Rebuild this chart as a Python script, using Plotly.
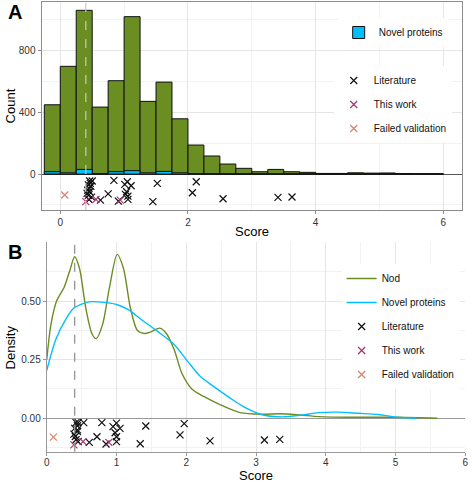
import plotly.graph_objects as go

# ---------------- data ----------------
# Panel A histogram (bins of 0.25 from -0.25 to 6.0)
bin_centers = [-0.125, 0.125, 0.375, 0.625, 0.875, 1.125, 1.375, 1.625, 1.875, 2.125,
               2.375, 2.625, 2.875, 3.125, 3.375, 3.625, 3.875, 4.125, 4.375, 4.625,
               4.875, 5.125, 5.375, 5.625, 5.875]
nod_counts = [449, 698, 1061, 434, 605, 1020, 471, 596, 358, 188,
              117, 65, 37, 15, 30, 15, 11, 4, 4, 8,
              6, 7, 3, 2, 2]
novel_counts = [15, 8, 30, 3, 15, 22, 8, 17, 8, 2,
                2, 1, 1, 0, 0, 0, 0, 0, 0, 0,
                0, 0, 0, 0, 0]

# Panel A jittered validation points (Count units)
litA_x = [0.46, 0.50, 0.47, 0.44, 0.48, 0.45, 0.43, 0.46, 0.42, 0.44, 0.49, 0.45,
          0.84, 1.05, 1.01, 1.11, 1.52, 2.13, 2.07, 0.75, 1.04, 1.02, 1.06, 0.91,
          0.63, 1.06, 1.45, 2.55, 3.41, 3.63]
litA_y = [-45, -45, -60, -70, -80, -92, -105, -115, -125, -138, -150, -165,
          -41, -50, -67, -76, -60, -50, -121, -128, -115, -132, -164, -175,
          -169, -143, -179, -160, -151, -149]
thisA_x = [0.40, 0.56, 0.94]
thisA_y = [-179, -164, -169]
failA_x = [0.07]
failA_y = [-136]

# Panel B densities
nod_dx = [0.0, 0.06, 0.14, 0.25, 0.33, 0.40, 0.47, 0.56, 0.65, 0.71, 0.80, 0.90,
          1.01, 1.10, 1.20, 1.30, 1.40, 1.50, 1.62, 1.72, 1.83, 1.94, 2.08, 2.25,
          2.49, 2.77, 3.10, 3.34, 3.62, 3.90, 4.40, 5.00, 5.60]
nod_dy = [0.25, 0.40, 0.50, 0.56, 0.63, 0.69, 0.64, 0.47, 0.36, 0.34, 0.40, 0.56,
          0.70, 0.64, 0.47, 0.375, 0.362, 0.37, 0.385, 0.36, 0.29, 0.19, 0.125, 0.093,
          0.057, 0.024, 0.017, 0.019, 0.014, 0.007, 0.004, 0.004, 0.0]
novel_dx = [0.0, 0.13, 0.27, 0.39, 0.60, 0.79, 1.00, 1.17, 1.36, 1.59, 1.83, 2.02,
            2.20, 2.39, 2.63, 2.86, 3.10, 3.38, 3.62, 3.90, 4.19, 4.47, 4.75, 5.03, 5.30]
novel_dy = [0.204, 0.336, 0.421, 0.471, 0.497, 0.496, 0.486, 0.464, 0.421, 0.371, 0.314, 0.243,
            0.179, 0.136, 0.086, 0.043, 0.014, 0.006, 0.012, 0.024, 0.026, 0.021, 0.016, 0.004, 0.0]

# Panel B jittered validation points (Density units)
litB_x = [0.42, 0.45, 0.53, 0.44, 0.40, 0.44, 0.39, 0.41, 0.42, 0.45, 0.44,
          0.79, 1.00, 0.95, 1.05, 0.98, 1.00, 1.00, 0.72, 0.61, 1.42, 1.34,
          1.97, 1.91, 2.34, 3.12, 3.34, 0.85]
litB_y = [-0.019, -0.019, -0.019, -0.032, -0.043, -0.057, -0.068, -0.078, -0.092, -0.100, -0.050,
          -0.019, -0.021, -0.036, -0.043, -0.062, -0.079, -0.100, -0.079, -0.103, -0.033, -0.109,
          -0.023, -0.071, -0.097, -0.093, -0.090, -0.110]
thisB_x = [0.39, 0.52, 0.89]
thisB_y = [-0.114, -0.100, -0.103]
failB_x = [0.095]
failB_y = [-0.081]

threshold = 0.4
ticksA_x = [0, 2, 4, 6]
ticksA_y = [0, 400, 800]
ticksB_y = [0, 0.25, 0.5]
ticksB_y_text = ["0.00", "0.25", "0.50"]

# ---------------- style ----------------
GREEN = "#6B8E23"
BLUE = "#00BFFF"
BLACK = "#111111"
MAGENTA = "#A8336E"
ORANGE = "#D9826A"
FONT = "Liberation Sans, Arial, sans-serif"
W, H = 472, 482

fig = go.Figure()

# Panel A bars
fig.add_trace(go.Bar(x=bin_centers, y=nod_counts, width=0.25, name="Nod",
                     marker=dict(color=GREEN, line=dict(color="#111", width=1)),
                     showlegend=False, xaxis="x", yaxis="y"))
fig.add_trace(go.Bar(x=bin_centers, y=novel_counts, width=0.25, name="Novel proteins",
                     marker=dict(color=BLUE, line=dict(color="#111", width=1)),
                     legend="legend", xaxis="x", yaxis="y"))

def xs(x, y, name, color, legend, ax, ay, show=True):
    return go.Scatter(x=x, y=y, mode="markers", name=name, legend=legend,
                      legendgroup=legend + name, showlegend=show,
                      marker=dict(symbol="x-thin", size=7,
                                  line=dict(color=color, width=1.2)),
                      xaxis=ax, yaxis=ay)

fig.add_trace(xs(litA_x, litA_y, "Literature", BLACK, "legend2", "x", "y"))
fig.add_trace(xs(thisA_x, thisA_y, "This work", MAGENTA, "legend2", "x", "y"))
fig.add_trace(xs(failA_x, failA_y, "Failed validation", ORANGE, "legend2", "x", "y"))

# Panel B
fig.add_trace(go.Scatter(x=nod_dx, y=nod_dy, mode="lines", name="Nod",
                         line=dict(color=GREEN, width=1.4, shape="spline", smoothing=0.8),
                         legend="legend3", legendgroup="bNod", xaxis="x2", yaxis="y2"))
fig.add_trace(go.Scatter(x=novel_dx, y=novel_dy, mode="lines", name="Novel proteins",
                         line=dict(color=BLUE, width=1.4, shape="spline", smoothing=0.8),
                         legend="legend3", legendgroup="bNovel", xaxis="x2", yaxis="y2"))
fig.add_trace(xs(litB_x, litB_y, "Literature", BLACK, "legend3", "x2", "y2"))
fig.add_trace(xs(thisB_x, thisB_y, "This work", MAGENTA, "legend3", "x2", "y2"))
fig.add_trace(xs(failB_x, failB_y, "Failed validation", ORANGE, "legend3", "x2", "y2"))

def px_x(p):
    return p / W

def px_y(p):
    return 1 - p / H

tickfont = dict(family=FONT, size=10, color="#333")
legfont = dict(family=FONT, size=10, color="#111")
titlefont = dict(family=FONT, size=13, color="#000")
grid = "#e6e6e6"
minor_grid = "#f2f2f2"

def label(text, x, y, angle=0, font=titlefont, xanchor="center", yanchor="middle"):
    return dict(text=text, x=px_x(x), y=px_y(y), xref="paper", yref="paper",
                xanchor=xanchor, yanchor=yanchor, textangle=angle,
                showarrow=False, font=font, borderpad=0)

panel_font = dict(family=FONT, size=20, color="#000")

fig.update_layout(
    width=W, height=H, margin=dict(l=0, r=0, t=0, b=0),
    paper_bgcolor="white", plot_bgcolor="white",
    barmode="overlay", font=dict(family=FONT, size=10, color="#111"),
    xaxis=dict(domain=[px_x(39), px_x(465)], anchor="y", range=[-0.294, 6.294],
               tickvals=ticksA_x, tickfont=tickfont, showgrid=True, gridcolor=grid,
               minor=dict(dtick=1, showgrid=True, gridcolor=minor_grid, ticks=""),
               showline=True, mirror=True, linecolor="#8c8c8c", linewidth=1,
               ticks="outside", ticklen=3, tickcolor="#8c8c8c", zeroline=False),
    yaxis=dict(domain=[px_y(210), px_y(2)], anchor="x", range=[-233, 1115],
               tickvals=ticksA_y, tickfont=tickfont, showgrid=True, gridcolor=grid,
               minor=dict(dtick=200, showgrid=True, gridcolor=minor_grid, ticks=""),
               showline=True, mirror=True, linecolor="#8c8c8c", linewidth=1,
               ticks="outside", ticklen=3, tickcolor="#8c8c8c",
               zeroline=True, zerolinecolor="#555", zerolinewidth=1),
    xaxis2=dict(domain=[px_x(44.3), px_x(468.3)], anchor="y2", range=[0, 6],
                dtick=1, tickfont=tickfont, showgrid=True, gridcolor=grid,
                minor=dict(dtick=0.5, showgrid=True, gridcolor=minor_grid, ticks=""),
                showline=True, linecolor="#999", linewidth=1,
                ticks="outside", ticklen=3, tickcolor="#999", zeroline=False,
                ticklabelstandoff=-2),
    yaxis2=dict(domain=[px_y(451.7), px_y(242)], anchor="x2", range=[-0.143, 0.753],
                tickvals=ticksB_y, ticktext=ticksB_y_text, tickfont=tickfont,
                showgrid=True, gridcolor=grid,
                minor=dict(dtick=0.125, showgrid=True, gridcolor=minor_grid, ticks=""),
                showline=True, linecolor="#999", linewidth=1,
                ticks="outside", ticklen=3, tickcolor="#999",
                zeroline=True, zerolinecolor="#999", zerolinewidth=1.3),
    legend=dict(x=px_x(340), y=px_y(18), xanchor="left", yanchor="top",
                bgcolor="white", font=legfont),
    legend2=dict(x=px_x(335), y=px_y(66), xanchor="left", yanchor="top",
                 bgcolor="white", tracegroupgap=5, font=legfont),
    legend3=dict(x=px_x(343), y=px_y(264), xanchor="left", yanchor="top",
                 bgcolor="white", tracegroupgap=5, font=legfont),
    shapes=[
        dict(type="line", xref="x", yref="paper", x0=threshold, x1=threshold,
             y0=px_y(210), y1=px_y(2), line=dict(color="#c8c8c8", width=1.2, dash="dash"),
             layer="above"),
        dict(type="line", xref="x2", yref="paper", x0=threshold, x1=threshold,
             y0=px_y(451.7), y1=px_y(242), line=dict(color="#999", width=1.4, dash="dash"),
             layer="above"),
    ],
    annotations=[
        label("<b>A</b>", 12, 12, font=panel_font),
        label("<b>B</b>", 12, 252, font=panel_font),
        label("Count", 7.5, 106, angle=-90),
        label("Score", 252, 231),
        label("Density", 7.5, 347, angle=-90),
        label("Score", 256, 475),
    ],
)

fig.write_html("out.html",
               config={"displayModeBar": False},
               post_script="document.body.style.margin='0';document.body.style.overflow='hidden';")
